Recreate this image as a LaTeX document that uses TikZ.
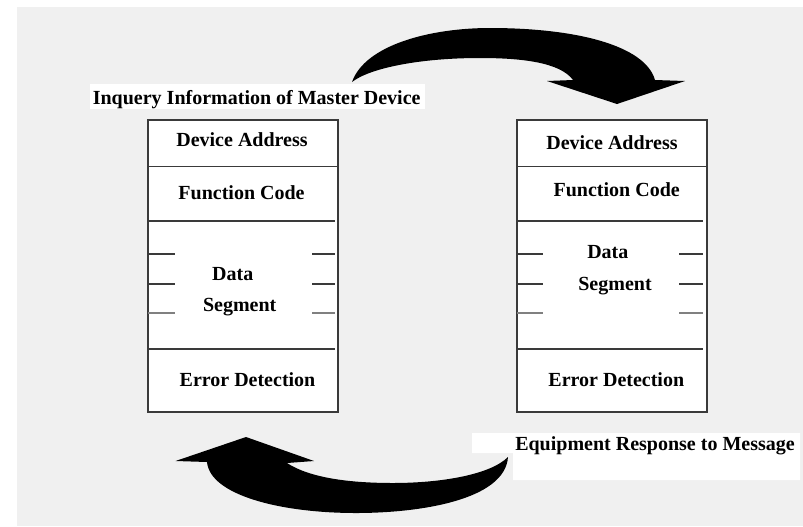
\documentclass[tikz,border=0pt]{standalone}
\usepackage{fontspec}
\setmainfont{Liberation Serif}
\usetikzlibrary{positioning}
\definecolor{paper}{HTML}{F0F0F0}
\definecolor{rule}{HTML}{3A3A3A}
\tikzset{
  field/.style={anchor=base,font=\fontsize{15}{18}\selectfont\bfseries,inner sep=0pt},
  frame/.style={draw=rule,line width=1.3pt,fill=white},
  sep/.style={draw=rule,line width=1.1pt},
  blob/.style={fill=black}
}
\begin{document}
\begin{tikzpicture}[x=0.75pt,y=-0.75pt]
\useasboundingbox (0,0) rectangle (803,526);
\fill[white] (0,0) rectangle (803,526);
\fill[paper] (17,7) rectangle (803,526);
\foreach \l/\r/\e in {148/338/335,517/707/703} {
  \draw[frame] (\l,120) rectangle (\r,412);
  \draw[sep] (\l,166.7) -- (\r,166.7);
  \draw[sep] (\l,221) -- (\e,221) (\l,349) -- (\e,349);
}
\foreach \a/\b/\c/\d in {148/175/312/335,517/543/679/703} {
  \foreach \y/\tc in {254/rule,284/rule,313/gray} {
    \draw[sep,draw=\tc] (\a,\y) -- (\b,\y) (\c,\y) -- (\d,\y);
  }
}
\node[field] (ldev) at (242,146.7) {Device Address};
\node[field] (lfun) at (241.5,199.3) {Function Code};
\node[field] (ldat) at (232.7,280) {Data};
\node[field] (lseg) at (239.7,311.7) {Segment};
\node[field] (lerr) at (247.5,386.7) {Error Detection};
\node[field] (rdev) at (612,149.3) {Device Address};
\node[field] (rfun) at (616.7,196) {Function Code};
\node[field] (rdat) at (607.8,258.3) {Data};
\node[field] (rseg) at (615,290.7) {Segment};
\node[field] (rerr) at (616.3,386.7) {Error Detection};
\fill[white] (90,84) rectangle (425,109);
\node[field] (query) at (256.7,104.3) {Inquery Information of Master Device};
\fill[white] (472,433) rectangle (800,453) (513,453) rectangle (800,480);
\node[field] (reply) at (655,450.7) {Equipment Response to Message};
\fill[blob] (352,82) .. controls (365,45) and (430,28) .. (490,28)
  .. controls (575,28) and (645,45) .. (655,80) -- (685,81) -- (617,104)
  -- (547,81) -- (573,80) .. controls (560,62) and (520,58) .. (480,58)
  .. controls (420,58) and (370,68) .. (352,82) -- cycle;
\fill[blob] (508,457) .. controls (505,500) and (420,513) .. (356,513)
  .. controls (280,513) and (210,495) .. (207,462) -- (175.5,461) -- (246,437)
  -- (314,461) -- (287,463) .. controls (310,478) and (350,483) .. (393,483)
  .. controls (440,483) and (490,475) .. (508,457) -- cycle;
\end{tikzpicture}
\end{document}
